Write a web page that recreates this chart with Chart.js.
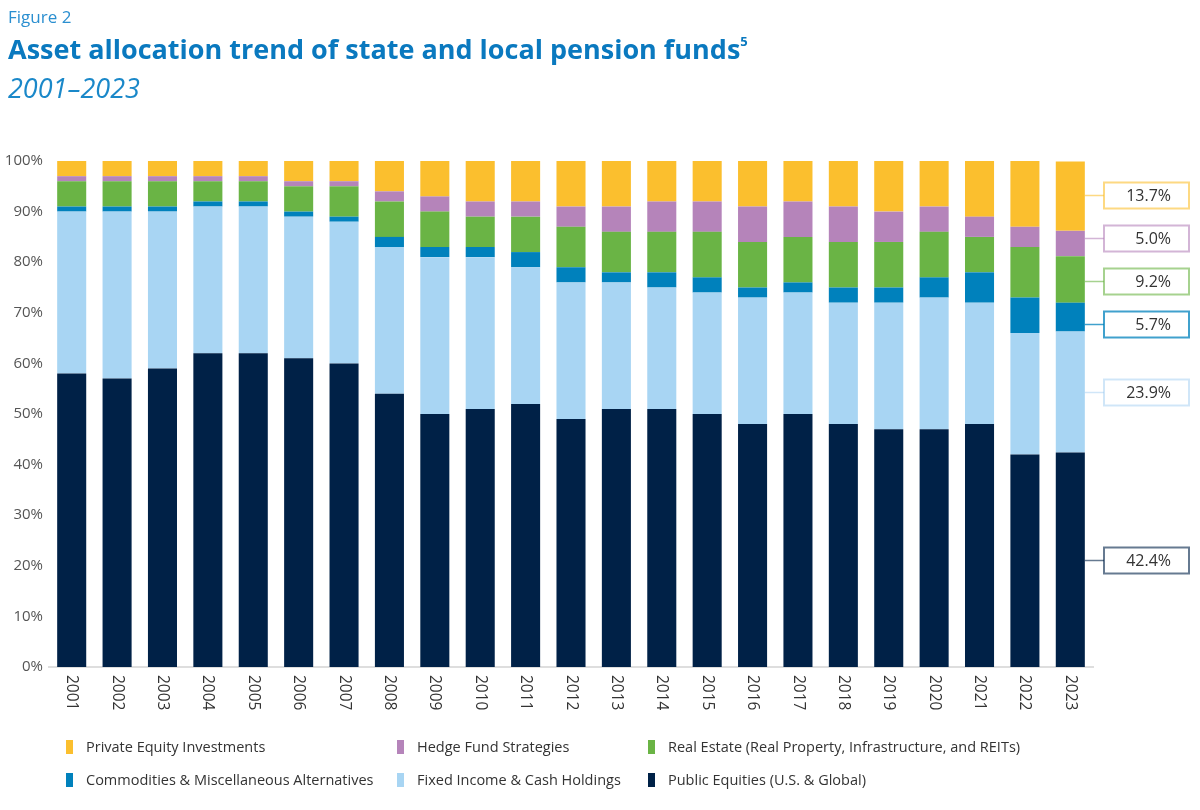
<!DOCTYPE html>
<html>
<head>
<meta charset="utf-8">
<script src="https://cdn.jsdelivr.net/npm/chart.js@4.4.1/dist/chart.umd.min.js"></script>
<style>
  body { margin: 0; background: #fff; font-family: "Open Sans", sans-serif; }
  #wrap { position: relative; width: 1200px; height: 810px; overflow: hidden; }
  #chart { position: absolute; left: 0; top: 0; }
  .fig { position: absolute; left: 8px; top: 5px; font-size: 17px; color: #2b8fd0; }
  .title { position: absolute; left: 8px; top: 30px; font-size: 27px; font-weight: 700; color: #0a79bf; letter-spacing: 0px; }
  .title sup { font-size: 13px; vertical-align: 13px; }
  .sub { position: absolute; left: 8px; top: 69px; font-size: 27px; font-style: italic; color: #1a88c9; }
  #legend { position: absolute; left: 0; top: 737px; width: 1200px; }
  .item { position: absolute; font-size: 14.5px; color: #333; white-space: nowrap; }
  .item i { position: absolute; left: -20px; top: 3px; width: 7px; height: 14px; }
</style>
</head>
<body>
<div id="wrap">
  <canvas id="chart" width="1200" height="810"></canvas>
  <div class="fig">Figure 2</div>
  <div class="title">Asset allocation trend of state and local pension funds<sup>5</sup></div>
  <div class="sub">2001–2023</div>
  <div id="legend"></div>
</div>
<script>
// === Data ===
const years = ['2001','2002','2003','2004','2005','2006','2007','2008','2009','2010','2011','2012',
               '2013','2014','2015','2016','2017','2018','2019','2020','2021','2022','2023'];
const publicEquities = [58, 57, 59, 62, 62, 61, 60, 54, 50, 51, 52, 49, 51, 51, 50, 48, 50, 48, 47, 47, 48, 42, 42.4];
const fixedIncome    = [32, 33, 31, 29, 29, 28, 28, 29, 31, 30, 27, 27, 25, 24, 24, 25, 24, 24, 25, 26, 24, 24, 23.9];
const commodities    = [1, 1, 1, 1, 1, 1, 1, 2, 2, 2, 3, 3, 2, 3, 3, 2, 2, 3, 3, 4, 6, 7, 5.7];
const realEstate     = [5, 5, 5, 4, 4, 5, 6, 7, 7, 6, 7, 8, 8, 8, 9, 9, 9, 9, 9, 9, 7, 10, 9.2];
const hedgeFunds     = [1, 1, 1, 1, 1, 1, 1, 2, 3, 3, 3, 4, 5, 6, 6, 7, 7, 7, 6, 5, 4, 4, 5.0];
const privateEquity  = [3, 3, 3, 3, 3, 4, 4, 6, 7, 8, 8, 9, 9, 8, 8, 9, 8, 9, 10, 9, 11, 13, 13.7];
const yTicks = [0, 10, 20, 30, 40, 50, 60, 70, 80, 90, 100];

// stacked bottom -> top
const series = [
  { label: 'Public Equities (U.S. & Global)', data: publicEquities, color: '#002147', box: 'rgba(0,33,71,0.6)' },
  { label: 'Fixed Income & Cash Holdings', data: fixedIncome, color: '#a8d5f3', box: 'rgba(150,200,240,0.45)' },
  { label: 'Commodities & Miscellaneous Alternatives', data: commodities, color: '#0081bc', box: 'rgba(0,129,188,0.75)' },
  { label: 'Real Estate (Real Property, Infrastructure, and REITs)', data: realEstate, color: '#6ab445', box: 'rgba(106,180,69,0.6)' },
  { label: 'Hedge Fund Strategies', data: hedgeFunds, color: '#b584ba', box: 'rgba(181,132,186,0.6)' },
  { label: 'Private Equity Investments', data: privateEquity, color: '#fbbf2e', box: 'rgba(251,191,46,0.6)' }
];

// legend order as in the figure
const legendOrder = [5, 4, 3, 2, 1, 0];
const legendCols = [86, 417, 668];
const legendEl = document.getElementById('legend');
legendOrder.forEach((si, i) => {
  const d = document.createElement('div');
  d.className = 'item';
  d.style.left = legendCols[i % 3] + 'px';
  d.style.top = (Math.floor(i / 3) * 33) + 'px';
  d.innerHTML = '<i style="background:' + series[si].color + '"></i>' + series[si].label;
  legendEl.appendChild(d);
});

// x labels rotated clockwise + end labels for the last bar
const customDraw = {
  id: 'customDraw',
  afterDraw(chart) {
    const ctx = chart.ctx;
    const xs = chart.scales.x, ys = chart.scales.y;
    ctx.save();
    ctx.font = '15.5px "Open Sans"';
    ctx.fillStyle = '#333';
    ctx.textAlign = 'left';
    ctx.textBaseline = 'middle';
    years.forEach((yr, i) => {
      ctx.save();
      ctx.translate(xs.getPixelForValue(i), chart.chartArea.bottom + 8);
      ctx.rotate(Math.PI / 2);
      ctx.fillText(yr, 0, 0);
      ctx.restore();
    });

    // end-of-series labels
    const last = years.length - 1;
    const meta = chart.getDatasetMeta(0).data[last];
    const barRight = meta.x + meta.width / 2;
    let cum = 0;
    const pos = series.map(s => {
      const v = s.data[last];
      const mid = ys.getPixelForValue(cum + v / 2);
      cum += v;
      return mid;
    });
    // spread labels apart a bit
    const gap = 43;
    for (let it = 0; it < 50; it++) {
      for (let k = 0; k < pos.length - 1; k++) {
        const d = pos[k] - pos[k + 1];
        if (d < gap) {
          const push = (gap - d) / 2;
          pos[k] += push;
          pos[k + 1] -= push;
        }
      }
    }
    const bx = 1104, bw = 85, bh = 26;
    ctx.font = '16px "Open Sans"';
    series.forEach((s, k) => {
      const y = Math.round(pos[k]) + 0.5;
      ctx.strokeStyle = s.box;
      ctx.lineWidth = 1.5;
      ctx.beginPath();
      ctx.moveTo(barRight, y);
      ctx.lineTo(bx, y);
      ctx.stroke();
      ctx.lineWidth = 2;
      ctx.fillStyle = '#fff';
      ctx.fillRect(bx, y - bh / 2, bw, bh);
      ctx.strokeRect(bx, y - bh / 2, bw, bh);
      ctx.fillStyle = '#333';
      ctx.textAlign = 'right';
      ctx.fillText(s.data[last].toFixed(1) + '%', bx + bw - 18, y + 1);
    });
    ctx.restore();
  }
};

new Chart(document.getElementById('chart').getContext('2d'), {
  type: 'bar',
  data: {
    labels: years,
    datasets: series.map(s => ({
      label: s.label,
      data: s.data,
      backgroundColor: s.color,
      borderWidth: 0,
      categoryPercentage: 1,
      barPercentage: 0.64
    }))
  },
  options: {
    responsive: false,
    animation: false,
    layout: { padding: { top: 161, left: 0, right: 107, bottom: 93 } },
    plugins: {
      legend: { display: false },
      tooltip: { enabled: false }
    },
    scales: {
      x: {
        stacked: true,
        grid: { display: false, drawTicks: false },
        border: { display: true, color: '#dedede', width: 2 },
        ticks: { color: 'rgba(0,0,0,0)', minRotation: 90, maxRotation: 90, font: { size: 14, family: 'Open Sans' } },
        afterFit(scale) { scale.height = 50; }
      },
      y: {
        stacked: true,
        min: 0,
        max: 100,
        grid: { display: false, drawTicks: false },
        border: { display: false },
        afterBuildTicks(scale) { scale.ticks = yTicks.map(v => ({ value: v })); },
        ticks: {
          padding: 6,
          color: '#555',
          font: { size: 15, family: 'Open Sans' },
          callback: v => v + '%'
        },
        afterFit(scale) { scale.width = 49; }
      }
    }
  },
  plugins: [customDraw]
});
</script>
</body>
</html>
